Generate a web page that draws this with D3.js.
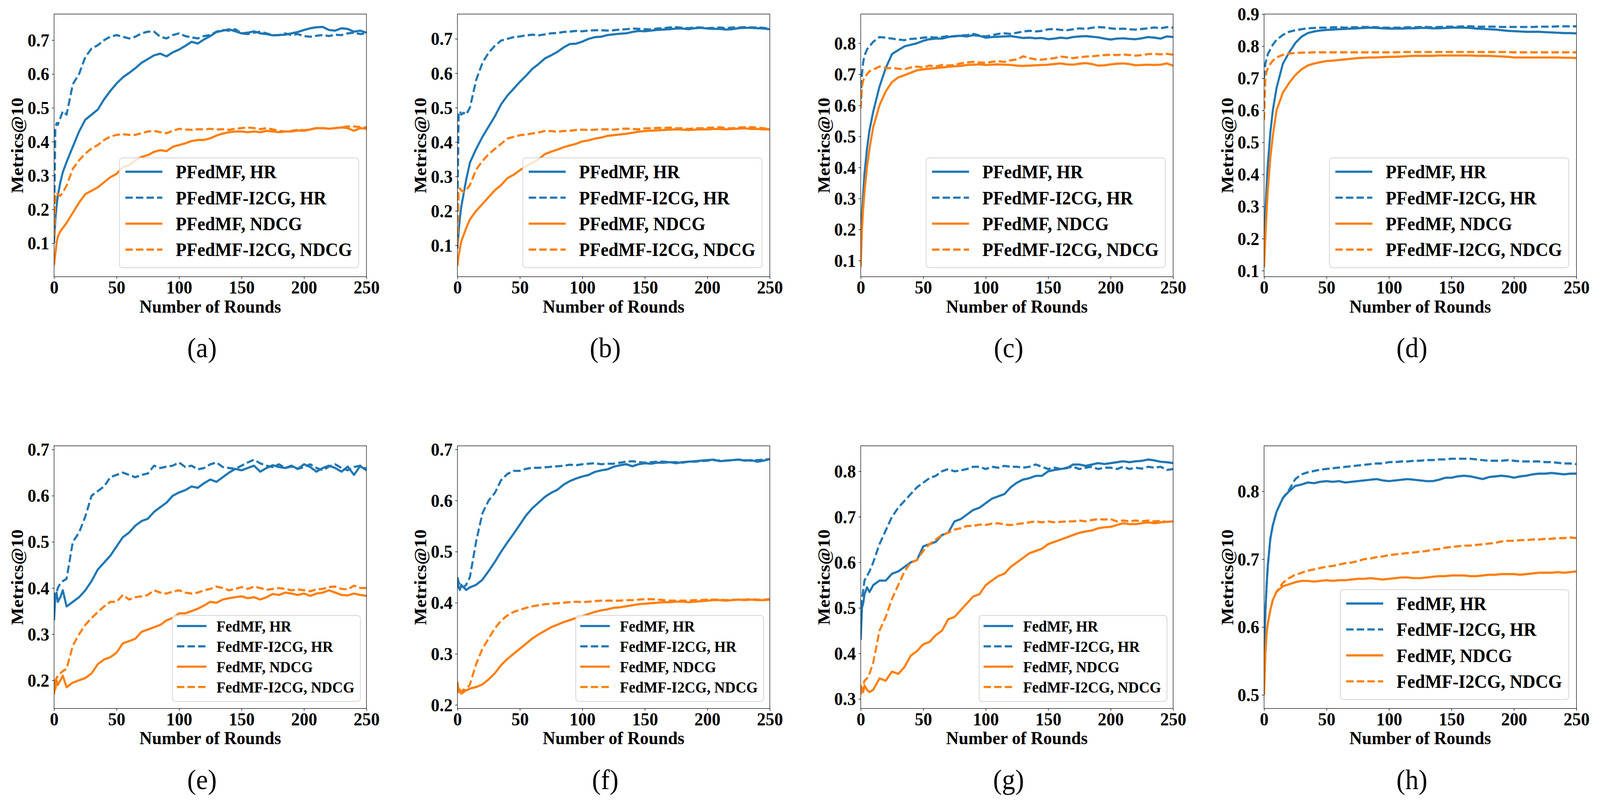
<!DOCTYPE html>
<html lang="en">
<head>
    <meta charset="UTF-8">
    <title>Metrics@10 over rounds</title>
    <script src="https://d3js.org/d3.v7.min.js" charset="UTF-8"></script>
    <style>
        html, body { margin: 0; padding: 0; background: #fff; overflow: hidden; }
        svg { display: block; width: 100vw; height: 100vh; }
        text { font-family: "Liberation Serif", "Times New Roman", serif; }
    </style>
</head>
<body>
<script>
    const rounds = [0, 1, 2, 3, 5, 7, 10,
        15, 20, 25, 30, 35, 40, 45, 50,
        55, 60, 65, 70, 75, 80, 85, 90, 95, 100,
        105, 110, 115, 120, 125, 130, 135, 140, 145, 150,
        155, 160, 165, 170, 175, 180, 185, 190, 195, 200,
        205, 210, 215, 220, 225, 230, 235, 240, 245, 250];

    const xTicks = [0, 50, 100, 150, 200, 250];
    const labelsP = ["PFedMF, HR", "PFedMF-I2CG, HR", "PFedMF, NDCG", "PFedMF-I2CG, NDCG"];
    const labelsF = ["FedMF, HR", "FedMF-I2CG, HR", "FedMF, NDCG", "FedMF-I2CG, NDCG"];
    const captions = ["(a)", "(b)", "(c)", "(d)", "(e)", "(f)", "(g)", "(h)"];

    // (a)
    const aHR = [0.10, 0.17, 0.21, 0.24, 0.28, 0.31, 0.34,
        0.385, 0.43, 0.465, 0.48, 0.495, 0.525, 0.55, 0.572,
        0.59, 0.603, 0.617, 0.633, 0.644, 0.655, 0.66, 0.652, 0.664, 0.672,
        0.683, 0.695, 0.69, 0.702, 0.712, 0.724, 0.728, 0.732, 0.726, 0.72,
        0.722, 0.726, 0.72, 0.718, 0.714, 0.715, 0.716, 0.72, 0.724, 0.73,
        0.735, 0.738, 0.739, 0.73, 0.728, 0.735, 0.733, 0.725, 0.728, 0.722];
    const aHR2 = [0.15, 0.44, 0.455, 0.45, 0.47, 0.49, 0.48,
        0.57, 0.6, 0.65, 0.675, 0.685, 0.70, 0.71, 0.715,
        0.71, 0.705, 0.71, 0.72, 0.725, 0.725, 0.71, 0.705, 0.715, 0.72,
        0.712, 0.708, 0.705, 0.712, 0.715, 0.725, 0.73, 0.728, 0.732, 0.72,
        0.718, 0.722, 0.725, 0.72, 0.715, 0.715, 0.72, 0.715, 0.718, 0.712,
        0.71, 0.713, 0.715, 0.712, 0.716, 0.715, 0.72, 0.722, 0.718, 0.72];
    const aND = [0.035, 0.07, 0.10, 0.12, 0.135, 0.145, 0.16,
        0.19, 0.22, 0.245, 0.255, 0.265, 0.28, 0.295, 0.305,
        0.325, 0.33, 0.345, 0.355, 0.36, 0.37, 0.375, 0.372, 0.385, 0.39,
        0.395, 0.402, 0.405, 0.405, 0.41, 0.418, 0.424, 0.428, 0.43, 0.43,
        0.428, 0.43, 0.428, 0.432, 0.43, 0.428, 0.43, 0.43, 0.433, 0.432,
        0.436, 0.44, 0.44, 0.438, 0.44, 0.442, 0.44, 0.432, 0.44, 0.438];
    const aND2 = [0.12, 0.24, 0.25, 0.245, 0.24, 0.25, 0.27,
        0.32, 0.345, 0.365, 0.38, 0.39, 0.405, 0.415, 0.42,
        0.422, 0.42, 0.42, 0.425, 0.43, 0.432, 0.428, 0.425, 0.432, 0.438,
        0.436, 0.435, 0.437, 0.436, 0.438, 0.436, 0.437, 0.435, 0.438, 0.44,
        0.442, 0.44, 0.437, 0.44, 0.436, 0.432, 0.43, 0.432, 0.435, 0.434,
        0.436, 0.44, 0.44, 0.438, 0.44, 0.442, 0.445, 0.445, 0.443, 0.442];

    // (b)
    const bHR = [0.09, 0.14, 0.18, 0.21, 0.25, 0.29, 0.34,
        0.38, 0.415, 0.445, 0.475, 0.51, 0.535, 0.555, 0.575,
        0.593, 0.613, 0.627, 0.643, 0.652, 0.662, 0.675, 0.685, 0.686, 0.692,
        0.70, 0.705, 0.706, 0.711, 0.713, 0.715, 0.716, 0.72, 0.723, 0.722,
        0.724, 0.726, 0.727, 0.728, 0.73, 0.73, 0.728, 0.731, 0.732, 0.73,
        0.729, 0.729, 0.727, 0.728, 0.731, 0.732, 0.732, 0.731, 0.73, 0.728];
    const bHR2 = [0.20, 0.48, 0.49, 0.48, 0.485, 0.48, 0.50,
        0.58, 0.63, 0.66, 0.68, 0.695, 0.70, 0.705, 0.707,
        0.71, 0.712, 0.71, 0.713, 0.716, 0.717, 0.72, 0.721, 0.723, 0.722,
        0.724, 0.725, 0.725, 0.724, 0.725, 0.727, 0.728, 0.73, 0.729, 0.728,
        0.727, 0.73, 0.731, 0.733, 0.734, 0.732, 0.731, 0.733, 0.733, 0.731,
        0.732, 0.733, 0.731, 0.733, 0.733, 0.734, 0.733, 0.733, 0.732, 0.729];
    const bND = [0.04, 0.07, 0.09, 0.11, 0.13, 0.15, 0.175,
        0.20, 0.22, 0.24, 0.26, 0.275, 0.295, 0.305, 0.318,
        0.33, 0.34, 0.35, 0.365, 0.372, 0.378, 0.385, 0.39, 0.395, 0.402,
        0.405, 0.41, 0.413, 0.418, 0.42, 0.422, 0.424, 0.427, 0.43, 0.432,
        0.433, 0.434, 0.435, 0.436, 0.437, 0.436, 0.435, 0.436, 0.437, 0.437,
        0.438, 0.438, 0.437, 0.438, 0.439, 0.44, 0.438, 0.438, 0.437, 0.437];
    const bND2 = [0.10, 0.26, 0.265, 0.26, 0.255, 0.26, 0.275,
        0.32, 0.345, 0.365, 0.38, 0.395, 0.41, 0.415, 0.42,
        0.422, 0.425, 0.428, 0.432, 0.432, 0.43, 0.432, 0.433, 0.435, 0.436,
        0.435, 0.436, 0.437, 0.437, 0.436, 0.438, 0.439, 0.438, 0.437, 0.44,
        0.44, 0.441, 0.441, 0.442, 0.44, 0.44, 0.438, 0.44, 0.44, 0.441,
        0.442, 0.443, 0.44, 0.44, 0.442, 0.443, 0.443, 0.442, 0.44, 0.438];

    // (c)
    const cHR = [0.13, 0.25, 0.32, 0.38, 0.46, 0.52, 0.58,
        0.66, 0.72, 0.765, 0.778, 0.79, 0.795, 0.80, 0.808,
        0.813, 0.815, 0.815, 0.82, 0.823, 0.824, 0.822, 0.826, 0.824, 0.818,
        0.82, 0.821, 0.822, 0.823, 0.82, 0.817, 0.818, 0.816, 0.817, 0.813,
        0.815, 0.818, 0.816, 0.82, 0.822, 0.823, 0.821, 0.819, 0.815, 0.812,
        0.815, 0.816, 0.814, 0.813, 0.816, 0.82, 0.818, 0.815, 0.822, 0.82];
    const cHR2 = [0.62, 0.70, 0.74, 0.76, 0.78, 0.79, 0.805,
        0.82, 0.818, 0.815, 0.812, 0.81, 0.814, 0.815, 0.818,
        0.82, 0.818, 0.82, 0.823, 0.822, 0.825, 0.826, 0.83, 0.825, 0.822,
        0.826, 0.83, 0.832, 0.83, 0.834, 0.838, 0.84, 0.838, 0.84, 0.845,
        0.846, 0.843, 0.842, 0.845, 0.848, 0.846, 0.85, 0.852, 0.851, 0.848,
        0.846, 0.847, 0.845, 0.844, 0.846, 0.848, 0.851, 0.848, 0.852, 0.85];
    const cND = [0.08, 0.20, 0.27, 0.32, 0.40, 0.46, 0.53,
        0.60, 0.645, 0.675, 0.69, 0.697, 0.705, 0.713, 0.716,
        0.718, 0.72, 0.722, 0.724, 0.726, 0.727, 0.73, 0.731, 0.732, 0.73,
        0.731, 0.732, 0.731, 0.73, 0.728, 0.727, 0.728, 0.729, 0.73, 0.731,
        0.733, 0.735, 0.732, 0.731, 0.734, 0.736, 0.733, 0.728, 0.729, 0.732,
        0.734, 0.735, 0.733, 0.729, 0.73, 0.731, 0.73, 0.731, 0.735, 0.728];
    const cND2 = [0.59, 0.66, 0.68, 0.69, 0.70, 0.71, 0.715,
        0.725, 0.72, 0.72, 0.718, 0.716, 0.722, 0.725, 0.722,
        0.728, 0.725, 0.73, 0.728, 0.73, 0.735, 0.738, 0.74, 0.738, 0.737,
        0.74, 0.742, 0.74, 0.745, 0.748, 0.758, 0.752, 0.748, 0.747, 0.75,
        0.752, 0.757, 0.755, 0.752, 0.755, 0.757, 0.758, 0.76, 0.762, 0.763,
        0.762, 0.764, 0.762, 0.76, 0.762, 0.765, 0.766, 0.764, 0.766, 0.763];

    // (d)
    const dHR = [0.20, 0.28, 0.36, 0.43, 0.53, 0.60, 0.67,
        0.745, 0.78, 0.81, 0.83, 0.841, 0.846, 0.849, 0.851,
        0.852, 0.853, 0.854, 0.855, 0.856, 0.857, 0.858, 0.857, 0.856, 0.855,
        0.855, 0.855, 0.856, 0.856, 0.857, 0.857, 0.856, 0.856, 0.857, 0.858,
        0.858, 0.858, 0.857, 0.855, 0.854, 0.853, 0.852, 0.85, 0.848, 0.847,
        0.846, 0.845, 0.845, 0.845, 0.844, 0.843, 0.842, 0.841, 0.841, 0.84];
    const dHR2 = [0.70, 0.745, 0.76, 0.775, 0.79, 0.805, 0.82,
        0.835, 0.845, 0.85, 0.853, 0.856, 0.857, 0.858, 0.858,
        0.859, 0.859, 0.858, 0.859, 0.859, 0.86, 0.86, 0.859, 0.858, 0.858,
        0.858, 0.858, 0.859, 0.859, 0.86, 0.86, 0.859, 0.86, 0.861, 0.861,
        0.861, 0.862, 0.862, 0.861, 0.861, 0.861, 0.861, 0.86, 0.86, 0.86,
        0.86, 0.86, 0.86, 0.861, 0.861, 0.861, 0.862, 0.862, 0.862, 0.862];
    const dND = [0.11, 0.20, 0.28, 0.35, 0.45, 0.52, 0.60,
        0.655, 0.685, 0.71, 0.728, 0.74, 0.746, 0.75, 0.754,
        0.755, 0.757, 0.759, 0.761, 0.763, 0.764, 0.765, 0.765, 0.766, 0.767,
        0.767, 0.768, 0.769, 0.77, 0.77, 0.77, 0.77, 0.771, 0.771, 0.771,
        0.771, 0.771, 0.771, 0.77, 0.77, 0.77, 0.769, 0.768, 0.767, 0.765,
        0.765, 0.765, 0.765, 0.765, 0.765, 0.765, 0.765, 0.764, 0.764, 0.763];
    const dND2 = [0.57, 0.70, 0.72, 0.73, 0.745, 0.755, 0.765,
        0.773, 0.777, 0.779, 0.78, 0.78, 0.781, 0.781, 0.781,
        0.781, 0.781, 0.781, 0.781, 0.781, 0.781, 0.781, 0.781, 0.781, 0.781,
        0.781, 0.782, 0.782, 0.782, 0.782, 0.782, 0.782, 0.782, 0.782, 0.782,
        0.782, 0.782, 0.782, 0.782, 0.782, 0.782, 0.782, 0.782, 0.782, 0.781,
        0.781, 0.781, 0.781, 0.781, 0.781, 0.781, 0.781, 0.781, 0.781, 0.781];

    // (e)
    const eHR = [0.33, 0.38, 0.39, 0.37, 0.38, 0.395, 0.36,
        0.37, 0.38, 0.395, 0.415, 0.44, 0.455, 0.47, 0.49,
        0.51, 0.52, 0.535, 0.545, 0.55, 0.565, 0.575, 0.585, 0.60, 0.607,
        0.612, 0.62, 0.617, 0.627, 0.635, 0.63, 0.64, 0.65, 0.658, 0.655,
        0.66, 0.665, 0.652, 0.66, 0.666, 0.662, 0.66, 0.665, 0.658, 0.668,
        0.662, 0.652, 0.66, 0.665, 0.66, 0.652, 0.663, 0.645, 0.664, 0.655];
    const eHR2 = [0.39, 0.38, 0.39, 0.40, 0.41, 0.415, 0.42,
        0.50, 0.52, 0.555, 0.60, 0.61, 0.62, 0.64, 0.645,
        0.65, 0.645, 0.64, 0.645, 0.648, 0.665, 0.66, 0.663, 0.665, 0.672,
        0.662, 0.665, 0.657, 0.66, 0.668, 0.672, 0.662, 0.66, 0.658, 0.665,
        0.672, 0.678, 0.67, 0.665, 0.662, 0.668, 0.66, 0.663, 0.658, 0.662,
        0.668, 0.66, 0.655, 0.663, 0.668, 0.66, 0.655, 0.662, 0.665, 0.658];
    const eND = [0.20, 0.18, 0.20, 0.19, 0.20, 0.21, 0.185,
        0.195, 0.20, 0.205, 0.215, 0.235, 0.245, 0.25, 0.26,
        0.28, 0.285, 0.29, 0.305, 0.31, 0.315, 0.32, 0.33, 0.335, 0.345,
        0.345, 0.35, 0.355, 0.362, 0.37, 0.368, 0.375, 0.378, 0.38, 0.382,
        0.378, 0.38, 0.375, 0.38, 0.387, 0.385, 0.39, 0.388, 0.385, 0.388,
        0.383, 0.388, 0.39, 0.395, 0.39, 0.385, 0.384, 0.388, 0.385, 0.383];
    const eND2 = [0.17, 0.20, 0.205, 0.21, 0.215, 0.22, 0.225,
        0.275, 0.30, 0.32, 0.335, 0.348, 0.36, 0.37, 0.37,
        0.385, 0.375, 0.38, 0.382, 0.385, 0.395, 0.39, 0.388, 0.392, 0.395,
        0.39, 0.388, 0.39, 0.395, 0.398, 0.403, 0.40, 0.395, 0.398, 0.402,
        0.398, 0.403, 0.40, 0.396, 0.398, 0.40, 0.398, 0.395, 0.397, 0.395,
        0.393, 0.397, 0.398, 0.402, 0.403, 0.398, 0.397, 0.405, 0.40, 0.40];

    // (f)
    const fHR = [0.44, 0.43, 0.425, 0.435, 0.43, 0.425, 0.43,
        0.435, 0.445, 0.462, 0.48, 0.50, 0.518, 0.535, 0.553,
        0.571, 0.585, 0.596, 0.607, 0.615, 0.621, 0.631, 0.638, 0.643, 0.647,
        0.65, 0.656, 0.659, 0.661, 0.666, 0.669, 0.671, 0.667, 0.671, 0.673,
        0.672, 0.674, 0.674, 0.675, 0.673, 0.675, 0.676, 0.677, 0.678, 0.679,
        0.68, 0.677, 0.678, 0.679, 0.68, 0.678, 0.679, 0.676, 0.678, 0.681];
    const fHR2 = [0.45, 0.44, 0.435, 0.432, 0.43, 0.435, 0.45,
        0.52, 0.575, 0.60, 0.615, 0.64, 0.652, 0.658, 0.658,
        0.662, 0.664, 0.664, 0.665, 0.666, 0.667, 0.668, 0.67, 0.669, 0.671,
        0.672, 0.673, 0.671, 0.672, 0.672, 0.674, 0.676, 0.677, 0.675, 0.674,
        0.675, 0.676, 0.676, 0.675, 0.675, 0.674, 0.676, 0.676, 0.677, 0.678,
        0.679, 0.678, 0.678, 0.679, 0.68, 0.679, 0.678, 0.679, 0.68, 0.681];
    const fND = [0.23, 0.225, 0.23, 0.225, 0.23, 0.228, 0.232,
        0.235, 0.24, 0.25, 0.262, 0.278, 0.29, 0.30, 0.31,
        0.32, 0.33, 0.338, 0.345, 0.352, 0.357, 0.362, 0.366, 0.37, 0.374,
        0.378, 0.382, 0.385, 0.387, 0.39, 0.391, 0.393, 0.395, 0.397, 0.398,
        0.399, 0.40, 0.401, 0.401, 0.402, 0.402, 0.401, 0.402, 0.403, 0.404,
        0.405, 0.405, 0.404, 0.405, 0.406, 0.405, 0.406, 0.405, 0.405, 0.406];
    const fND2 = [0.245, 0.23, 0.225, 0.222, 0.225, 0.23, 0.24,
        0.28, 0.31, 0.33, 0.35, 0.365, 0.375, 0.382, 0.386,
        0.39, 0.393, 0.395, 0.397, 0.398, 0.399, 0.40, 0.401, 0.402, 0.401,
        0.402, 0.403, 0.404, 0.404, 0.404, 0.404, 0.405, 0.405, 0.406, 0.407,
        0.407, 0.406, 0.405, 0.404, 0.404, 0.404, 0.404, 0.405, 0.405, 0.406,
        0.406, 0.406, 0.405, 0.406, 0.406, 0.406, 0.407, 0.406, 0.406, 0.407];

    // (g)
    const gHR = [0.43, 0.50, 0.51, 0.53, 0.545, 0.535, 0.55,
        0.56, 0.56, 0.575, 0.58, 0.59, 0.60, 0.605, 0.635,
        0.64, 0.645, 0.66, 0.665, 0.69, 0.695, 0.705, 0.715, 0.72, 0.73,
        0.74, 0.745, 0.75, 0.765, 0.775, 0.782, 0.785, 0.79, 0.79, 0.80,
        0.803, 0.805, 0.807, 0.815, 0.815, 0.812, 0.815, 0.818, 0.816, 0.818,
        0.82, 0.822, 0.82, 0.822, 0.823, 0.826, 0.824, 0.821, 0.82, 0.818];
    const gHR2 = [0.50, 0.52, 0.54, 0.56, 0.57, 0.58, 0.60,
        0.64, 0.67, 0.70, 0.72, 0.735, 0.75, 0.765, 0.775,
        0.785, 0.79, 0.80, 0.805, 0.80, 0.802, 0.805, 0.81, 0.81, 0.805,
        0.81, 0.808, 0.812, 0.81, 0.81, 0.808, 0.81, 0.815, 0.81, 0.805,
        0.808, 0.805, 0.808, 0.81, 0.805, 0.808, 0.81, 0.805, 0.808, 0.808,
        0.805, 0.81, 0.805, 0.808, 0.806, 0.81, 0.808, 0.81, 0.803, 0.805];
    const gND = [0.31, 0.32, 0.315, 0.33, 0.32, 0.315, 0.32,
        0.345, 0.34, 0.36, 0.355, 0.37, 0.395, 0.405, 0.42,
        0.425, 0.44, 0.45, 0.475, 0.48, 0.495, 0.51, 0.525, 0.53, 0.55,
        0.56, 0.57, 0.575, 0.59, 0.60, 0.61, 0.62, 0.625, 0.63, 0.64,
        0.645, 0.65, 0.655, 0.66, 0.665, 0.668, 0.67, 0.675, 0.677, 0.678,
        0.682, 0.686, 0.684, 0.684, 0.686, 0.688, 0.686, 0.688, 0.689, 0.69];
    const gND2 = [0.33, 0.32, 0.33, 0.34, 0.345, 0.355, 0.38,
        0.45, 0.48, 0.52, 0.55, 0.58, 0.60, 0.605, 0.625,
        0.64, 0.65, 0.66, 0.665, 0.672, 0.675, 0.68, 0.68, 0.683, 0.682,
        0.685, 0.686, 0.683, 0.682, 0.684, 0.686, 0.688, 0.69, 0.688, 0.69,
        0.688, 0.689, 0.69, 0.69, 0.692, 0.69, 0.693, 0.695, 0.694, 0.695,
        0.69, 0.692, 0.69, 0.692, 0.69, 0.692, 0.69, 0.691, 0.689, 0.69];

    // (h)
    const hHR = [0.56, 0.62, 0.66, 0.69, 0.73, 0.75, 0.77,
        0.79, 0.80, 0.808, 0.81, 0.813, 0.812, 0.814, 0.815,
        0.814, 0.815, 0.813, 0.814, 0.815, 0.816, 0.817, 0.818, 0.816, 0.815,
        0.816, 0.817, 0.818, 0.817, 0.816, 0.815, 0.815, 0.817, 0.82, 0.82,
        0.822, 0.823, 0.822, 0.82, 0.818, 0.821, 0.822, 0.823, 0.822, 0.82,
        0.822, 0.823, 0.825, 0.826, 0.826, 0.827, 0.826, 0.825, 0.826, 0.826];
    const hHR2 = [0.56, 0.62, 0.66, 0.69, 0.73, 0.75, 0.77,
        0.79, 0.802, 0.818, 0.825, 0.828, 0.83, 0.832, 0.833,
        0.834, 0.835, 0.836, 0.837, 0.838, 0.839, 0.84, 0.841, 0.841, 0.843,
        0.843, 0.844, 0.844, 0.845, 0.845, 0.846, 0.846, 0.847, 0.847, 0.848,
        0.848, 0.848, 0.848, 0.847, 0.846, 0.845, 0.845, 0.845, 0.846, 0.845,
        0.844, 0.844, 0.844, 0.844, 0.843, 0.843, 0.842, 0.841, 0.841, 0.84];
    const hND = [0.50, 0.56, 0.59, 0.605, 0.625, 0.64, 0.652,
        0.66, 0.663, 0.666, 0.668, 0.668, 0.667, 0.668, 0.669,
        0.668, 0.669, 0.669, 0.67, 0.671, 0.671, 0.672, 0.671, 0.67, 0.671,
        0.672, 0.673, 0.673, 0.672, 0.672, 0.673, 0.674, 0.675, 0.675, 0.676,
        0.676, 0.676, 0.675, 0.675, 0.676, 0.677, 0.677, 0.678, 0.678, 0.678,
        0.677, 0.678, 0.679, 0.68, 0.68, 0.68, 0.681, 0.68, 0.681, 0.682];
    const hND2 = [0.50, 0.56, 0.59, 0.605, 0.625, 0.64, 0.652,
        0.665, 0.672, 0.677, 0.68, 0.683, 0.685, 0.687, 0.689,
        0.69, 0.692, 0.694, 0.695, 0.697, 0.70, 0.701, 0.703, 0.704, 0.706,
        0.707, 0.708, 0.709, 0.71, 0.711, 0.712, 0.714, 0.715, 0.717, 0.718,
        0.719, 0.72, 0.72, 0.721, 0.722, 0.723, 0.724, 0.726, 0.727, 0.727,
        0.728, 0.728, 0.729, 0.729, 0.73, 0.73, 0.731, 0.731, 0.732, 0.731];

    // y ranges and ticks per panel
    const yDomains = [[0.001, 0.777], [0.0086, 0.772], [0.048, 0.894], [0.081, 0.9003],
        [0.139, 0.708], [0.193, 0.707], [0.279, 0.856], [0.48, 0.867]];
    const yTicks = [[0.1, 0.2, 0.3, 0.4, 0.5, 0.6, 0.7], [0.1, 0.2, 0.3, 0.4, 0.5, 0.6, 0.7],
        [0.1, 0.2, 0.3, 0.4, 0.5, 0.6, 0.7, 0.8], [0.1, 0.2, 0.3, 0.4, 0.5, 0.6, 0.7, 0.8, 0.9],
        [0.2, 0.3, 0.4, 0.5, 0.6, 0.7], [0.2, 0.3, 0.4, 0.5, 0.6, 0.7],
        [0.3, 0.4, 0.5, 0.6, 0.7, 0.8], [0.5, 0.6, 0.7, 0.8]];

    const seriesByPanel = [
        [aHR, aHR2, aND, aND2], [bHR, bHR2, bND, bND2], [cHR, cHR2, cND, cND2], [dHR, dHR2, dND, dND2],
        [eHR, eHR2, eND, eND2], [fHR, fHR2, fND, fND2], [gHR, gHR2, gND, gND2], [hHR, hHR2, hND, hND2]
    ];

    var blue = "#1f77b4", orange = "#ff7f0e";
    var lineColors = [blue, blue, orange, orange];
    var lineDash = [null, "20,8.6", null, "20,8.6"];
    var serif = "'Liberation Serif', 'Times New Roman', serif";

    var width = 4328, height = 2052;
    var axW = 845, axH = 672;
    var colX = [146.3, 1237.3, 2328.3, 3419.3];
    var rowY = [36, 1140.7];

    // two legend sizes appear in the figure
    var bigLegend = {fs: 48, rows: [35.4, 101.8, 168.2, 234.6], h: 281, line: [16, 116], text: 152, pad: 18, dx: 21, dy: 23};
    var smallLegend = {fs: 40, rows: [27, 79, 131, 183], h: 220, line: [12, 92], text: 119, pad: 16, dx: 16.5, dy: 18};

    // the svg is stretched over the whole window, drawing coordinates stay 4328 x 2052
    const svg = d3.select("body")
        .append("svg")
        .attr("viewBox", [0, 0, width, height])
        .attr("preserveAspectRatio", "none");

    svg.append("rect").attr("width", width).attr("height", height).attr("fill", "#fff");

    seriesByPanel.forEach(function (series, i) {
        var row = i < 4 ? 0 : 1;
        var left = colX[i % 4], top = rowY[row];
        var labels = row === 0 ? labelsP : labelsF;
        var leg = (row === 0 || i === 7) ? bigLegend : smallLegend;

        var x = d3.scaleLinear().domain([0, 250]).range([0, axW]);
        var y = d3.scaleLinear().domain(yDomains[i]).range([axH, 0]);

        var g = svg.append("g").attr("transform", "translate(" + left + "," + top + ")");

        g.append("clipPath").attr("id", "clip" + i)
            .append("rect").attr("width", axW).attr("height", axH);

        var line = d3.line()
            .x((d, k) => x(rounds[k]))
            .y(d => y(d));

        g.append("g")
            .attr("clip-path", "url(#clip" + i + ")")
            .selectAll("path")
            .data(series)
            .join("path")
            .attr("d", d => line(d))
            .attr("fill", "none")
            .attr("stroke", (d, k) => lineColors[k])
            .attr("stroke-width", 5.6)
            .attr("stroke-linejoin", "round")
            .attr("stroke-dasharray", (d, k) => lineDash[k]);

        // axes
        var xAxis = g.append("g")
            .attr("transform", "translate(0," + axH + ")")
            .call(d3.axisBottom(x).tickValues(xTicks).tickSize(6).tickPadding(8).tickFormat(d3.format("d")));
        var yAxis = g.append("g")
            .call(d3.axisLeft(y).tickValues(yTicks[i]).tickSize(6).tickPadding(7).tickFormat(d3.format(".1f")));

        [xAxis, yAxis].forEach(function (ax) {
            ax.attr("font-family", serif).attr("font-size", 47);
            ax.select(".domain").remove();
            ax.selectAll("line").attr("stroke", "#000").attr("stroke-width", 1.3);
            ax.selectAll("text")
                .attr("fill", "#000")
                .attr("font-family", serif)
                .attr("font-weight", "bold")
                .attr("font-size", 47);
        });
        xAxis.selectAll("text").attr("dy", null).attr("y", 43.4);
        yAxis.selectAll("text").attr("dy", null).attr("x", -13).attr("y", 15.6);

        g.append("rect")
            .attr("width", axW).attr("height", axH)
            .attr("fill", "none").attr("stroke", "#000").attr("stroke-width", 1.3);

        g.append("text")
            .attr("x", axW / 2).attr("y", axH + 91.7)
            .attr("text-anchor", "middle")
            .attr("font-family", serif).attr("font-weight", "bold").attr("font-size", 47)
            .text("Number of Rounds");

        g.append("text")
            .attr("transform", "translate(-84," + axH / 2 + ") rotate(-90)")
            .attr("text-anchor", "middle")
            .attr("font-family", serif).attr("font-weight", "bold").attr("font-size", 47)
            .text("Metrics@10");

        // legend, lower right
        var lg = g.append("g");
        var box = lg.append("rect")
            .attr("rx", 8).attr("ry", 8)
            .attr("fill", "#fff").attr("fill-opacity", 0.8)
            .attr("stroke", "#d4d4d4").attr("stroke-width", 2);
        var maxW = 0;
        labels.forEach(function (lab, k) {
            var cy = leg.rows[k];
            lg.append("line")
                .attr("x1", leg.line[0]).attr("x2", leg.line[1])
                .attr("y1", cy).attr("y2", cy)
                .attr("stroke", lineColors[k]).attr("stroke-width", 5.6)
                .attr("stroke-dasharray", lineDash[k]);
            var t = lg.append("text")
                .attr("x", leg.text).attr("y", cy + leg.fs * 0.35)
                .attr("font-family", serif).attr("font-weight", "bold").attr("font-size", leg.fs)
                .text(lab);
            maxW = Math.max(maxW, t.node().getComputedTextLength());
        });
        var boxW = leg.text + maxW + leg.pad;
        box.attr("width", boxW).attr("height", leg.h);
        lg.attr("transform", "translate(" + (axW - leg.dx - boxW) + "," + (axH - leg.dy - leg.h) + ")");

        g.append("text")
            .attr("x", 400).attr("y", axH + 206)
            .attr("text-anchor", "middle")
            .attr("font-family", serif).attr("font-size", 72)
            .text(captions[i]);
    });
</script>
</body>
</html>
